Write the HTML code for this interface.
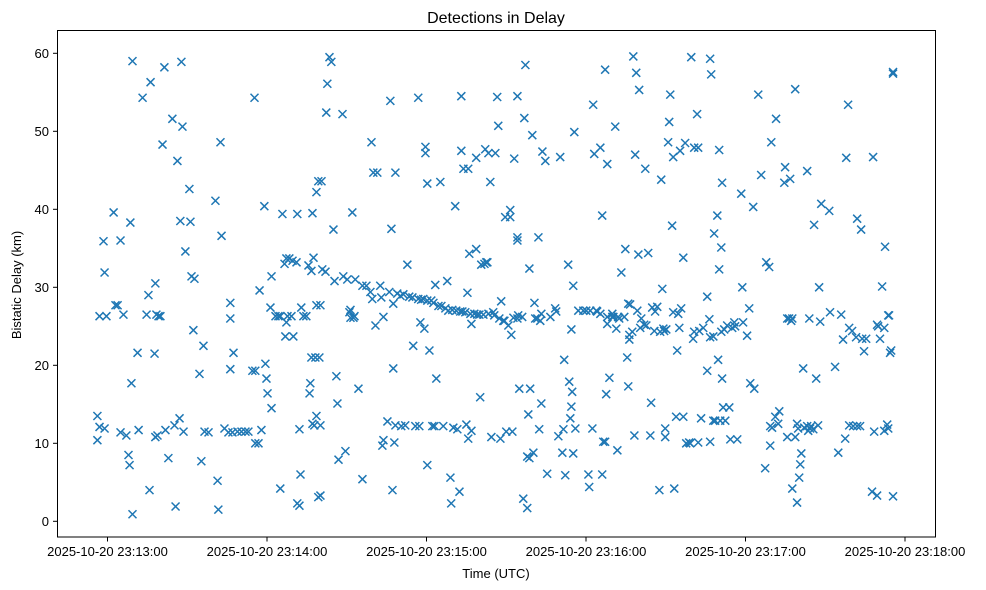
<!DOCTYPE html>
<html><head><meta charset="utf-8"><style>
body{margin:0;background:#fff;}
svg{display:block;font-family:"Liberation Sans","DejaVu Sans",sans-serif;}
</style></head><body>
<svg id="chart" width="986" height="590" viewBox="0 0 986 590" xmlns="http://www.w3.org/2000/svg">
<rect x="0" y="0" width="986" height="590" fill="#fff"/>
<text x="496" y="23" font-size="16" text-anchor="middle" fill="#000">Detections in Delay</text>
<text x="496" y="578" font-size="13" text-anchor="middle" fill="#000">Time (UTC)</text>
<text x="0" y="0" font-size="13" text-anchor="middle" fill="#000" transform="translate(21,285) rotate(-90)">Bistatic Delay (km)</text>
<g id="marks"></g>
<g id="axes"></g>
<rect x="57.5" y="30.5" width="878" height="506.5" fill="none" stroke="#000" stroke-width="1"/>
</svg>
<script>
// time in seconds after 23:13:00 UTC, delay in km
const times = [-3.8,-3.8,-3,-3,-1.5,-1.1,-0.4,-1.1,2.3,3,3.8,4.9,4.9,6,7.1,7.9,8.3,8.6,9,9.4,9.4,11.3,11.7,13.2,14.7,15.4,15.8,16.2,17.7,18,18.4,19.2,19.9,18,18.8,20.7,21.4,21.8,22.9,24.4,25.2,25.6,26.3,27.1,27.4,28.2,27.8,28.6,29.3,30.8,31.2,31.6,32.7,32.3,34.6,35.3,36.1,36.5,38,40.6,41.4,41.7,42.5,42.9,44,45.5,46.2,46.2,46.2,47,47.4,48.9,50.4,51.9,53,54.5,55.3,55.6,55.6,56.8,57.2,57.9,59,59.4,59.8,60.2,61.3,61.7,61.7,63.2,64.3,65,65,65.8,66.6,67.3,68.4,69.6,71.1,71.4,67.7,69.2,66.9,67.3,69.9,71.4,72.2,72.2,72.6,72.9,73.7,74.8,75.6,76.3,76.7,76,77.1,77.1,77.5,77.8,76.7,78.2,79.7,78.6,78.6,79.3,78.6,79.3,80.1,80.1,80.1,80.5,80.8,82,82.7,83.5,84.2,82.3,85,85.4,86.1,86.9,86.5,88.4,88.7,89.5,90.2,91,91.4,92.1,91.4,92.5,92.9,93.2,94.4,95.9,95.9,97.4,98.9,99.3,99.6,100,100.8,101.5,102.6,103,103.8,103.4,103.8,105.3,106,106.4,106.8,107.2,107.5,107.5,107.9,108.3,108.3,109,110.2,110.5,111.3,112,112.8,113.5,114.7,115,115.8,116.9,116.9,117.3,117.7,118,118.8,119.2,119.6,119.6,120.3,120.3,121.1,120.3,121.8,122.2,122.6,123,123.3,123.7,124.5,125.2,125.6,126.3,127.1,127.8,128.2,129.3,129.7,129,130.1,130.8,131.2,131.6,132.4,132.7,133.1,133.1,133.5,133.9,134.6,135,135.4,135.7,135.7,136.1,136.5,136.9,136.9,138,138.7,138.7,139.1,139.9,140.2,140.6,141.4,141.8,142.1,142.5,142.9,143.3,143.3,144,144.4,145.1,145.5,145.9,146.6,147,147.4,147.8,148.1,148.9,149.3,149.6,150,150.8,151.5,151.5,151.9,152.3,152.7,153,154.2,154.2,154.2,154.2,154.5,154.9,156,156.4,156.8,157.2,157.9,157.9,158.3,158.7,158.7,159,159.8,160.2,160.6,160.9,161.7,162.1,162.4,162.8,163.2,163.6,163.2,164.7,165.4,166.6,168.4,168.8,169.6,170.3,171.1,171.5,171.8,172.2,173.3,173.7,174.1,174.5,174.8,175.2,174.5,175.2,175.6,176,177.1,179,180.1,180.9,181.2,181.6,182.4,182.7,183.1,183.9,184.2,185.4,185.4,186.1,186.1,186.5,187.2,187.2,187.6,188,188,188,188.8,189.9,189.9,190.3,191,191.4,191.8,192.1,192.5,193.3,194.4,194.8,195.5,195.9,195.9,196.3,196.3,196.6,197.4,197.8,198.2,198.5,198.9,199.3,199.7,200,200.4,200.8,201.9,202.3,202.7,203.4,204.2,204.5,204.9,205.7,206,206.8,207.6,207.9,208.3,208.7,209.1,209.4,209.8,209.8,210.2,210.9,211.3,211.7,212.4,212.8,212.8,213.2,213.9,214.3,214.7,215.1,215.4,215.8,216.6,216.6,217.3,217.7,218.8,219.2,219.6,220.3,220.7,220.7,221.8,222.2,222.2,222.6,223.3,224.1,225.6,225.6,226.4,226.7,226.7,226.7,227.1,227.9,227.9,228.2,228.6,229.4,229.7,230.1,230.1,230.5,230.9,230.9,231.2,231.2,231.6,232,232.4,233.1,233.9,234.3,235,235.8,236.1,236.9,238.4,238.8,239.1,240.6,241.4,241.8,242.9,243.3,244.8,245.9,247.4,247.8,248.9,249.3,249.3,249.7,250,251.2,251.5,252.3,252.7,254.6,254.9,255.7,255.7,256.4,256.8,257.2,257.6,257.6,258.7,258.7,259.4,259.4,259.8,260.2,260.6,261,261.7,262.1,263.2,263.2,263.6,264,264.3,264.7,265.5,265.8,266.6,267.3,267.7,268.1,268.5,271.5,271.8,273.7,274.9,276,276.7,277.5,277.9,278.6,279,279,280.1,280.5,281.6,282,282,283.1,283.5,283.9,284.6,285.4,287.6,288,288.4,289.5,289.5,289.9,290.6,291.4,292.2,292.2,292.5,293.3,293.7,294,294.4,294.8,295.5,295.5,295.5,293.7];
const delays = [13.5,10.4,12.1,26.3,35.9,31.9,26.3,11.9,39.6,27.7,27.7,36,11.4,26.5,11,8.5,7.2,38.3,17.7,59,0.9,21.6,11.7,54.3,26.5,29,4,56.3,21.5,30.5,26.5,26.3,26.3,10.8,11,48.3,58.2,11.7,8.1,51.6,12.3,1.9,46.2,13.2,38.5,50.6,58.9,11.5,34.6,42.6,38.4,31.4,31.1,24.5,18.9,7.7,22.5,11.5,11.4,41.1,5.2,1.5,48.6,36.6,11.9,11.4,28,26,19.5,11.4,21.6,11.5,11.5,11.5,11.5,19.3,54.3,19.3,10,10,29.6,11.7,40.4,20.2,18.3,16.4,27.4,14.5,31.4,26.3,26.3,26.3,4.2,39.4,33,33.7,33.7,33.4,33.2,39.4,26.3,26.3,23.7,25.5,23.7,2.3,2,11.8,6,27.4,26.3,26.3,32.8,17.7,32.1,16.4,12.5,39.5,33.8,12.3,21,21,21,27.7,13.5,43.6,42.2,3.1,3.3,27.7,12.3,43.6,32.3,32,56.1,59.5,58.9,52.4,37.4,30.8,18.6,7.9,15.1,52.2,31.4,9,31,26.8,26.1,39.6,27.1,26.1,26.3,31,17,30.2,5.4,30.2,29.4,48.6,28.5,44.7,25.1,44.7,30.2,28.7,26.2,9.7,10.4,12.8,29.4,53.9,37.5,4,27.9,19.6,10.1,12.3,44.7,29.2,28.9,12.2,29.1,12.3,32.9,28.8,28.7,22.5,12.2,54.3,28.5,12.2,25.5,28.4,28.5,24.7,47.2,48,43.3,28.3,21.9,7.2,28.3,12.2,28,12.2,30.3,18.3,27.6,43.5,27.6,12.2,27.3,30.8,27,2.3,27.1,5.6,12,40.4,27,11.8,3.8,26.9,47.5,54.5,26.9,45.2,26.8,12.4,29.3,45.2,10.6,34.3,26.6,25.3,11.6,26.6,34.9,46.6,26.5,26.5,15.9,32.9,26.5,33,47.7,33.2,33.2,47.2,26.6,43.5,10.8,26.8,26.4,47.2,54.4,50.7,26,10.6,28.2,25.7,25.7,39,11.5,25.1,39,39.9,23.9,11.5,26.1,46.5,26,36.4,54.5,36,26.4,17,26.2,2.9,51.7,58.5,1.7,8.3,13.7,8.1,32.4,17,49.5,8.8,28,26,26,36.4,11.8,25.7,26.6,47.4,15.1,46.2,6.1,26.2,27.3,26.9,10.9,46.7,8.8,11.8,20.7,5.9,32.9,17.9,13.2,14.7,16.6,8.7,24.6,30.2,49.9,11.9,27,27,27,6,4.4,27,11.9,53.4,47.1,27,26.9,47.9,26.6,39.2,6,10.2,10.2,57.9,16.3,45.8,26.2,25.3,18.4,26.6,26.2,26.2,50.6,24.7,9.1,26.2,26,31.9,26.2,34.9,21,17.3,27.9,23.9,23.3,27.8,24.3,59.6,11,47,57.5,27,34.2,55.3,24.8,26,25.2,45.2,25.1,34.4,11,15.2,27.4,24.4,26.9,27.5,4,24.3,43.8,29.8,24.7,24.4,11.9,10.8,24.6,48.6,51.2,54.7,37.9,26.8,46.7,4.2,13.4,21.9,26.6,24.8,47.5,27.3,13.4,33.8,48.5,10,10.1,10,59.5,23.4,24.3,47.9,52.2,10.1,47.9,24.4,13.2,24.8,19.3,28.8,25.9,10.2,23.6,59.3,57.3,12.9,23.7,36.9,12.9,39.2,20.7,47.6,32.3,12.9,35.1,24.3,18.3,43.4,14.6,24.6,12.9,25.1,14.6,10.5,24.8,25.5,25,10.5,42,30,25.5,23.8,27.3,17.7,40.3,17,54.7,44.4,6.8,33.2,32.6,9.7,12.2,48.6,12,13.4,51.6,12.5,14.1,43.4,45.4,10.8,26,26,43.9,25.7,26,4.2,55.4,10.8,2.4,12.5,11.9,5.6,7.3,8.7,19.6,12,12.2,44.9,11.6,26,11.9,12.2,11.8,38,18.3,12.3,30,25.6,40.7,39.8,26.8,19.8,8.8,26.5,23.3,10.6,46.6,53.4,24.8,12.3,24.4,12.2,23.6,38.8,12.2,12.2,37.4,23.4,21.8,23.4,3.8,46.7,11.5,3.3,25.2,25,23.4,30.1,11.6,24.8,35.2,12.4,26.4,26.4,21.6,21.9,57.6,57.4,3.2,11.9];
const xTickSeconds = [0,60,120,180,240,300];
const xTickLabels = ["2025-10-20 23:13:00","2025-10-20 23:14:00","2025-10-20 23:15:00","2025-10-20 23:16:00","2025-10-20 23:17:00","2025-10-20 23:18:00"];
const yTicks = [0,10,20,30,40,50,60];

const NS = "http://www.w3.org/2000/svg";
function xScale(t){ return 107.5 + t * (905 - 107.5) / 300; }
function yScale(d){ return 521.3 - d * (521.3 - 53.3) / 60; }
function mk(tag, attrs, parent){
  const el = document.createElementNS(NS, tag);
  for (const k in attrs) el.setAttribute(k, attrs[k]);
  parent.appendChild(el);
  return el;
}
const marks = document.getElementById('marks');
const axes = document.getElementById('axes');
const h = 4;
for (let i = 0; i < times.length; i++) {
  const cx = xScale(times[i]), cy = yScale(delays[i]);
  const p = mk('path', {d:`M${cx-h},${cy-h}L${cx+h},${cy+h}M${cx-h},${cy+h}L${cx+h},${cy-h}`, stroke:'#1f77b4', 'stroke-width':1.5, fill:'none'}, marks);
  
  
}
for (let i = 0; i < xTickSeconds.length; i++) {
  const x = xScale(xTickSeconds[i]);
  const l = mk('line', {x1:x, x2:x, y1:537, y2:541.5, stroke:'#000', 'stroke-width':1}, axes);
  
  
  const t = mk('text', {x:x, y:556, 'font-size':13, 'text-anchor':'middle', fill:'#000'}, axes);
  t.textContent = xTickLabels[i];
  
  
}
for (let i = 0; i < yTicks.length; i++) {
  const y = yScale(yTicks[i]);
  const l = mk('line', {x1:53, x2:57.5, y1:y, y2:y, stroke:'#000', 'stroke-width':1}, axes);
  
  
  const t = mk('text', {x:49, y:y+4.5, 'font-size':13, 'text-anchor':'end', fill:'#000'}, axes);
  t.textContent = String(yTicks[i]);
  
  
}
</script>
</body></html>
